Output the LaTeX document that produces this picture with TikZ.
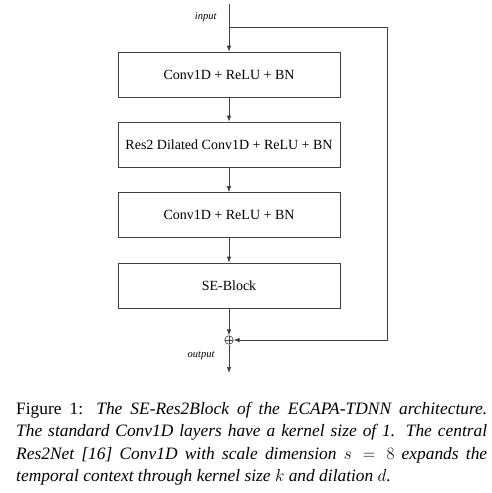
\documentclass[tikz,border=0pt]{standalone}
\usepackage{fontspec}
\setmainfont{Liberation Serif}
\usetikzlibrary{arrows.meta}

\tikzset{
  block/.style={draw=black!75,line width=.7pt,minimum width=222pt,minimum height=45pt,inner sep=0pt},
  flow/.style={draw=black!75,line width=.7pt,-{Latex[length=6pt,width=4.5pt]}},
  sumnode/.style={circle,draw=black!75,line width=.6pt,minimum size=8.5pt,inner sep=0pt,
    path picture={\draw[black!75,line width=.6pt]
      (path picture bounding box.north) -- (path picture bounding box.south)
      (path picture bounding box.west) -- (path picture bounding box.east);}},
  tag/.style={font=\fontsize{10.5}{12}\selectfont\itshape}
}

\begin{document}
\begin{tikzpicture}[x=1pt,y=-1pt,font=\fontsize{14}{16}\selectfont]
  \useasboundingbox (0,0) rectangle (492,493);

  % main chain
  \node[block] (conv1) at (229,74.5) {Conv1D + ReLU + BN};
  \node[block] (res2) at (229,144.5) {Res2 Dilated Conv1D + ReLU + BN};
  \node[block] (conv2) at (229,215) {Conv1D + ReLU + BN};
  \node[block] (se) at (229,285.5) {SE-Block};
  \node[sumnode] (sum) at (229,340) {};

  \coordinate (in) at (229,4);
  \coordinate (split) at (229,27);
  \coordinate (skip) at (387,27);
  \coordinate (out) at (229,373);

  \draw[flow] (in) -- (conv1);
  \draw[flow] (conv1) -- (res2);
  \draw[flow] (res2) -- (conv2);
  \draw[flow] (conv2) -- (se);
  \draw[flow] (se) -- (sum);
  \draw[flow] (sum) -- (out);

  % residual path
  \draw[flow] (split) -- (skip) |- (sum);

  \node[tag,anchor=east] (inlabel) at (220,17) {input};
  \node[tag,anchor=east] (outlabel) at (218,356) {output};

  % caption
  \node[anchor=north west,inner sep=0pt,text width=471pt,align=justify,
        font=\fontsize{17.4}{22.3}\selectfont] (caption) at (16,402)
    {Figure 1: \textit{The SE-Res2Block of the ECAPA-TDNN architecture.}\linebreak
     \textit{The standard Conv1D layers have a kernel size of 1. The central}\linebreak
     \textit{Res2Net [16] Conv1D with scale dimension $s = 8$ expands the}\linebreak
     \textit{temporal context through kernel size $k$ and dilation $d$.}};
\end{tikzpicture}
\end{document}
